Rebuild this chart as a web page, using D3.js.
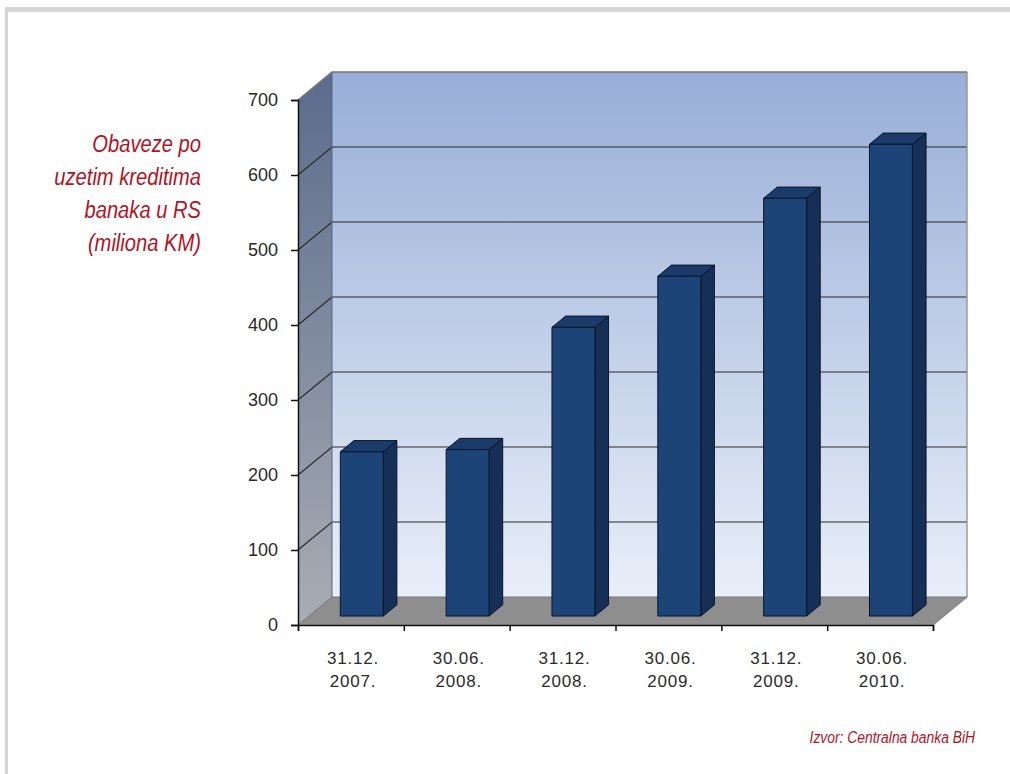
<!DOCTYPE html>
<html><head><meta charset="utf-8">
<script src="https://cdn.jsdelivr.net/npm/d3@7"></script>
<style>body{margin:0;background:#fff}svg{display:block}</style>
</head><body>
<script>
const categories = [["31.12.","2007."],["30.06.","2008."],["31.12.","2008."],["30.06.","2009."],["31.12.","2009."],["30.06.","2010."]];
const values = [219, 222, 385, 453, 557, 629];
const yTicks = [0,100,200,300,400,500,600,700];
const titleLines = ["Obaveze po","uzetim kreditima","banaka u RS","(miliona KM)"];
const sourceText = "Izvor: Centralna banka BiH";

const W=1010,H=774;
const svg=d3.select("body").append("svg").attr("width",W).attr("height",H);

// frame
svg.append("rect").attr("x",5).attr("y",7).attr("width",W-5).attr("height",5).attr("fill","#d5d5d5");
svg.append("rect").attr("x",5).attr("y",7).attr("width",3).attr("height",H-7).attr("fill","#d5d5d5");

const x0=298, x1=933, yBase=625;
const DX=34, DY=28;
const x=d3.scaleBand().domain(d3.range(categories.length)).range([x0,x1]).paddingInner(0).paddingOuter(0);
const y=d3.scaleLinear().domain([0,700]).range([yBase,yBase-525]);
const P=(px,py,z)=>[px+DX*z, py-DY*z];

const defs=svg.append("defs");
const g1=defs.append("linearGradient").attr("id","wallG").attr("x1",0).attr("y1",0).attr("x2",0).attr("y2",1);
g1.append("stop").attr("offset","0%").attr("stop-color","#98aed7");
g1.append("stop").attr("offset","100%").attr("stop-color","#e9eff9");
const g2=defs.append("linearGradient").attr("id","sideG").attr("x1",0).attr("y1",0).attr("x2",0).attr("y2",1);
g2.append("stop").attr("offset","0%").attr("stop-color","#5a6b8c");
g2.append("stop").attr("offset","100%").attr("stop-color","#a9adb4");

const line=d3.line();
const bw=[P(x0,y(700),1),P(x1,y(700),1),P(x1,y(0),1),P(x0,y(0),1)];
svg.append("path").attr("d",line(bw)+"Z").attr("fill","url(#wallG)");
const sw=[P(x0,y(0),0),P(x0,y(700),0),P(x0,y(700),1),P(x0,y(0),1)];
svg.append("path").attr("d",line(sw)+"Z").attr("fill","url(#sideG)");
const fl=[P(x0,y(0),0),P(x1,y(0),0),P(x1,y(0),1),P(x0,y(0),1)];
svg.append("path").attr("d",line(fl)+"Z").attr("fill","#8e8e8e");

yTicks.filter(v=>v>0).forEach(v=>{
  svg.append("path").attr("d",line([P(x0,y(v),0),P(x0,y(v),1),P(x1,y(v),1)]))
    .attr("fill","none").attr("stroke",v===700?"#777":"#2a2a2a").attr("stroke-width",v===700?1.5:1.2);
});
svg.append("path").attr("d",line([P(x1,y(700),1),P(x1,y(0),1),P(x1,y(0),0)])).attr("fill","none").attr("stroke","#888").attr("stroke-width",1.2);
svg.append("path").attr("d",line([P(x0,y(0),0),P(x0,y(0),1),P(x1,y(0),1)])).attr("fill","none").attr("stroke","#777").attr("stroke-width",1);
svg.append("path").attr("d",line([P(x0,y(0),1),P(x0,y(700),1)])).attr("fill","none").attr("stroke","#5a6680").attr("stroke-width",1);

const z0=0.32, z1=0.72, bwFrac=0.406;
const bars=svg.append("g");
values.forEach((v,i)=>{
  const bwid=x.bandwidth()*bwFrac;
  const L=x(i)+(x.bandwidth()-bwid)/2, R=L+bwid;
  const yt=y(v), yb=y(0);
  const front=[P(L,yb,z0),P(R,yb,z0),P(R,yt,z0),P(L,yt,z0)];
  const side=[P(R,yb,z0),P(R,yb,z1),P(R,yt,z1),P(R,yt,z0)];
  const top=[P(L,yt,z0),P(R,yt,z0),P(R,yt,z1),P(L,yt,z1)];
  bars.append("path").attr("d",line(side)+"Z").attr("fill","#152f57").attr("stroke","#0a1528").attr("stroke-width",1);
  bars.append("path").attr("d",line(top)+"Z").attr("fill","#1b3c6a").attr("stroke","#0a1528").attr("stroke-width",1);
  bars.append("path").attr("d",line(front)+"Z").attr("fill","#1c4476").attr("stroke","#0a1528").attr("stroke-width",1);
});

const yAxis=d3.axisLeft(y).tickValues(yTicks).tickSize(7).tickPadding(13).tickFormat(d3.format("d"));
const ya=svg.append("g").attr("transform",`translate(${x0},0)`).call(yAxis);
ya.select(".domain").attr("stroke","#111").attr("stroke-width",1.5);
ya.selectAll(".tick line").attr("stroke","#111").attr("stroke-width",1.5);
ya.selectAll("text").attr("font-family","'Liberation Sans',Arial,sans-serif").attr("font-size",18).attr("fill","#2a2a2a");

const xAxis=d3.axisBottom(d3.scaleLinear().domain([0,categories.length]).range([x0,x1]))
  .tickValues(d3.range(categories.length+1)).tickSize(6).tickFormat("");
const xa=svg.append("g").attr("transform",`translate(0,${yBase})`).call(xAxis);
xa.select(".domain").attr("stroke","#111").attr("stroke-width",1.5);
xa.selectAll(".tick line").attr("stroke","#111").attr("stroke-width",1.5);

const xl=svg.append("g");
categories.forEach((c,i)=>{
  const cx=x(i)+x.bandwidth()/2+2;
  const t=xl.append("text").attr("x",cx).attr("y",664)
    .attr("text-anchor","middle").attr("font-family","'Liberation Sans',Arial,sans-serif").attr("font-size",17)
    .attr("letter-spacing",0.8).attr("fill","#2a2a2a");
  c.forEach((s,k)=>t.append("tspan").attr("x",cx).attr("dy",k?23:0).text(s));
});

// title (condensed italic)
const tg=svg.append("g").attr("transform","translate(201,0) scale(0.84,1)");
const tt=tg.append("text").attr("text-anchor","end").attr("font-family","'Liberation Sans',Arial,sans-serif")
  .attr("font-style","italic").attr("font-size",24).attr("fill","#b3121f");
titleLines.forEach((s,k)=>tt.append("tspan").attr("x",0).attr("y",152+k*33).text(s));

const sg=svg.append("g").attr("transform","translate(975,0) scale(0.84,1)");
sg.append("text").attr("x",0).attr("y",743).attr("text-anchor","end")
  .attr("font-family","'Liberation Sans',Arial,sans-serif").attr("font-style","italic")
  .attr("font-size",16.5).attr("fill","#b3121f").text(sourceText);
</script>
</body></html>
